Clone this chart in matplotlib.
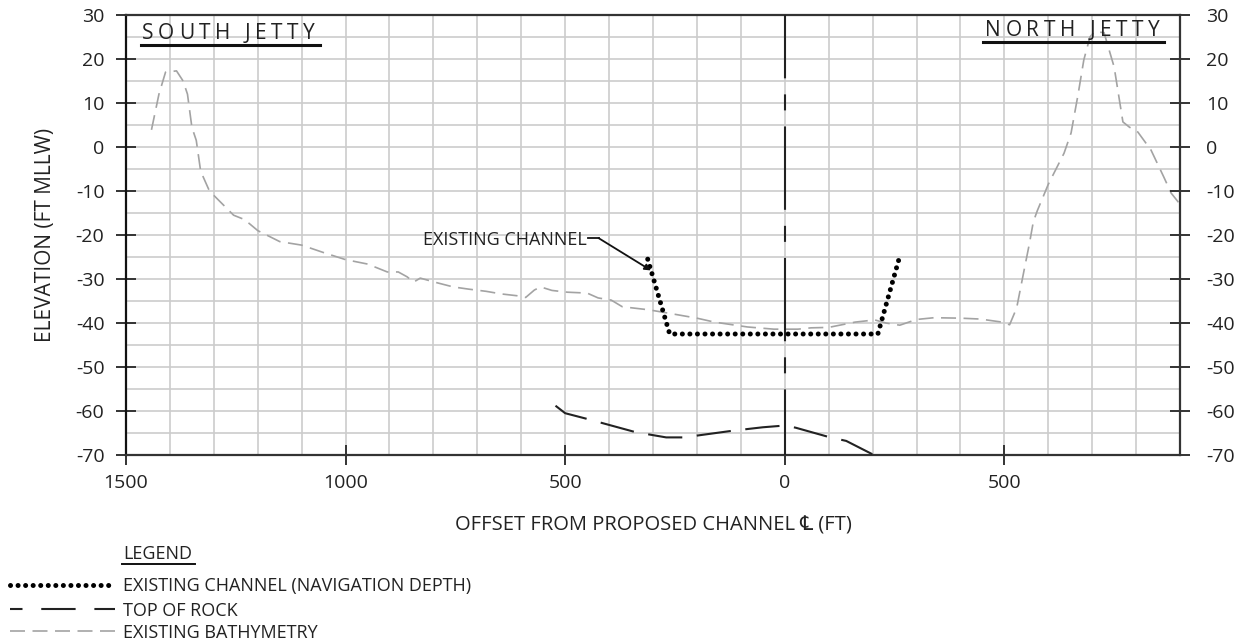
import numpy as np
import matplotlib
matplotlib.use("Agg")
import matplotlib.pyplot as plt
from matplotlib.font_manager import FontProperties

FAMILY = ['Open Sans', 'DejaVu Sans']
plt.rcParams['font.family'] = FAMILY
plt.rcParams['axes.unicode_minus'] = False

# Offsets in feet from the proposed channel centreline (negative = south side)
bathy_x = [-1442, -1425, -1410, -1385, -1370, -1360, -1350, -1340, -1330, -1310,
           -1280, -1255, -1230, -1200, -1150, -1100, -1050, -1000, -950, -905,
           -880, -860, -845, -830, -790, -755, -720, -680, -645, -610,
           -590, -570, -556, -530, -495, -450, -425, -395, -370, -310,
           -280, -200, -160, -85, -25, 30, 60, 100, 160, 205,
           230, 262, 300, 340, 400, 445, 495, 512, 528, 545,
           557, 566, 575, 600, 636, 652, 668, 681, 695, 705,
           727, 750, 770, 785, 804, 834, 863, 880, 900]
bathy_y = [3.9, 12, 17, 17.3, 15, 12, 4.5, 1.5, -5.5, -10,
           -13, -15.5, -16.5, -19, -21.5, -22.3, -24, -25.6, -26.6, -28.4,
           -28.4, -29.5, -30.7, -29.8, -30.9, -31.8, -32.3, -32.8, -33.4, -33.8,
           -34.2, -32.5, -31.8, -32.6, -33.0, -33.2, -34.3, -34.8, -36.3, -37.0,
           -37.5, -38.9, -39.8, -40.9, -41.4, -41.4, -41.1, -41.0, -39.8, -39.3,
           -40.0, -40.5, -39.2, -38.8, -38.9, -39.1, -39.8, -40.4, -36.6, -28,
           -22, -17, -14.5, -8.5, -1.4, 3.2, 12, 19.8, 25, 26.2,
           26, 18.2, 5.7, 4.5, 3.4, -0.7, -6.8, -10.5, -13]

channel_x = [-312, -262, 212, 260]
channel_y = [-25.5, -42.5, -42.5, -25.5]

rock_x = [-522, -500, -450, -340, -270, -230, -120, -50, 0, 25, 100, 140, 203]
rock_y = [-58.8, -60.5, -61.8, -64.8, -66.0, -66.0, -64.5, -63.7, -63.3, -63.8, -65.9, -66.8, -70]

x_ticks = [-1500, -1000, -500, 0, 500]
x_tick_labels = ['1500', '1000', '500', '0', '500']
y_ticks = list(range(-70, 31, 10))

TXT = '#222222'
W, H = 1248, 642
fig = plt.figure(figsize=(W / 100, H / 100), dpi=100)
L, R, T, B = 126, 1180, 15, 455
ax = fig.add_axes([L / W, 1 - B / H, (R - L) / W, (B - T) / H])

ax.set_xlim(-1500, 900)
ax.set_ylim(-70, 30)
ax.set_xticks(x_ticks)
ax.set_xticklabels(x_tick_labels)
ax.set_xticks(np.arange(-1500, 901, 100), minor=True)
ax.set_yticks(y_ticks)
ax.set_yticks(np.arange(-70, 31, 5), minor=True)
ax.set_axisbelow(True)
ax.grid(which='both', color='#cccccc', lw=1.2)

tick_col = '#333333'
ax.tick_params(which='major', direction='inout', length=14, width=1.4, color=tick_col,
               labelsize=14, labelcolor=TXT)
ax.tick_params(axis='y', which='major', pad=8.5)
ax.tick_params(axis='x', which='major', pad=7)
ax.tick_params(which='minor', length=0)
for side in ['left', 'right', 'top', 'bottom']:
    ax.spines[side].set_color('#333333')
    ax.spines[side].set_linewidth(1.6)
ax.spines['left'].set_color('#111111')

# Right-hand elevation scale
ax2 = ax.twinx()
ax2.set_ylim(-70, 30)
ax2.set_yticks(y_ticks)
ax2.tick_params(direction='inout', length=14, width=1.4, color=tick_col,
                labelsize=14, labelcolor=TXT, pad=12)
for side in ['left', 'right', 'top', 'bottom']:
    ax2.spines[side].set_visible(False)

# Existing bathymetry
ax.plot(bathy_x, bathy_y, color='#a3a3a3', lw=1.2, linestyle=(0, (9, 4.5)), zorder=3)

# Top of rock
ax.plot(rock_x, rock_y, color='#222222', lw=1.5, linestyle=(0, (16.5, 7)), zorder=3,
        clip_on=False)

# Channel centreline
ax.plot([0, 0], [30, -70], color='#222222', lw=1.5,
        linestyle=(9.6, (40, 7.7, 7.7, 7.7)), zorder=3)

# Existing channel (navigation depth)
ax.plot(channel_x, channel_y, color='black', lw=3.6, linestyle=(0, (0.01, 1.5)),
        dash_capstyle='round', zorder=4)

# Leader to the channel side slope
frac = 0.15
tx = channel_x[0] + frac * (channel_x[1] - channel_x[0])
ty = channel_y[0] + frac * (channel_y[1] - channel_y[0])
ax.text(-450, -22.2, 'EXISTING CHANNEL', ha='right', va='baseline', fontsize=13,
        color=TXT, zorder=5)
ax.plot([-448, -424], [-20.7, -20.7], color='#111111', lw=1.3, zorder=5)
ax.annotate('', xy=(tx, ty), xytext=(-424, -20.7),
            arrowprops=dict(arrowstyle='-|>', color='#111111', lw=1.3,
                            mutation_scale=9, shrinkA=0, shrinkB=0), zorder=5)

# Overlay in figure pixels (headings, axis titles, legend)
lax = fig.add_axes([0, 0, 1, 1], zorder=10)
lax.patch.set_visible(False)
lax.set_xlim(0, W)
lax.set_ylim(H, 0)
lax.axis('off')

renderer = fig.canvas.get_renderer()


def spaced_text(x, y_base, s, size, gap, align='left'):
    prop = FontProperties(family=FAMILY, size=size)

    def width(t):
        return renderer.get_text_width_height_descent(t, prop, ismath=False)[0]

    base = width('XX')
    offs = [width('X' + s[:i] + 'X') - base + i * gap for i in range(len(s))]
    total = width('X' + s + 'X') - base + (len(s) - 1) * gap
    x0 = x if align == 'left' else x - total
    for ch, o in zip(s, offs):
        if ch != ' ':
            lax.text(x0 + o, y_base, ch, fontproperties=prop, color=TXT,
                     ha='left', va='baseline')


spaced_text(142, 39, 'SOUTH JETTY', 15, 4.6)
lax.plot([141, 320], [45, 45], color='#111111', lw=2.2)
spaced_text(1160, 36, 'NORTH JETTY', 15, 4.6, align='right')
lax.plot([983, 1164], [42, 42], color='#111111', lw=2.2)

lax.text(46, 235, 'ELEVATION (FT MLLW)', rotation=90, ha='center', va='center',
         fontsize=15, color=TXT)
lax.text(653, 531, 'OFFSET FROM PROPOSED CHANNEL \u2104 (FT)', ha='center',
         va='baseline', fontsize=14.5, color=TXT)

# Legend block below the plot
lax.text(123, 559, 'LEGEND', ha='left', va='baseline', fontsize=13, color=TXT)
lax.plot([122, 195], [564, 564], color='#111111', lw=1.4)
rows = [
    ('EXISTING CHANNEL (NAVIGATION DEPTH)', dict(color='black', lw=3.6,
        linestyle=(0, (0.01, 1.5)), dash_capstyle='round'), 585),
    ('TOP OF ROCK', dict(color='#222222', lw=1.5, linestyle=(10.5, (16.5, 9))), 609),
    ('EXISTING BATHYMETRY', dict(color='#a3a3a3', lw=1.2, linestyle=(0, (9, 4.5))), 631),
]
for label, style, yy in rows:
    lax.plot([10, 115], [yy, yy], **style)
    lax.text(123, yy + 6.5, label, ha='left', va='baseline', fontsize=13, color=TXT)

fig.savefig('out.png', dpi=100)
